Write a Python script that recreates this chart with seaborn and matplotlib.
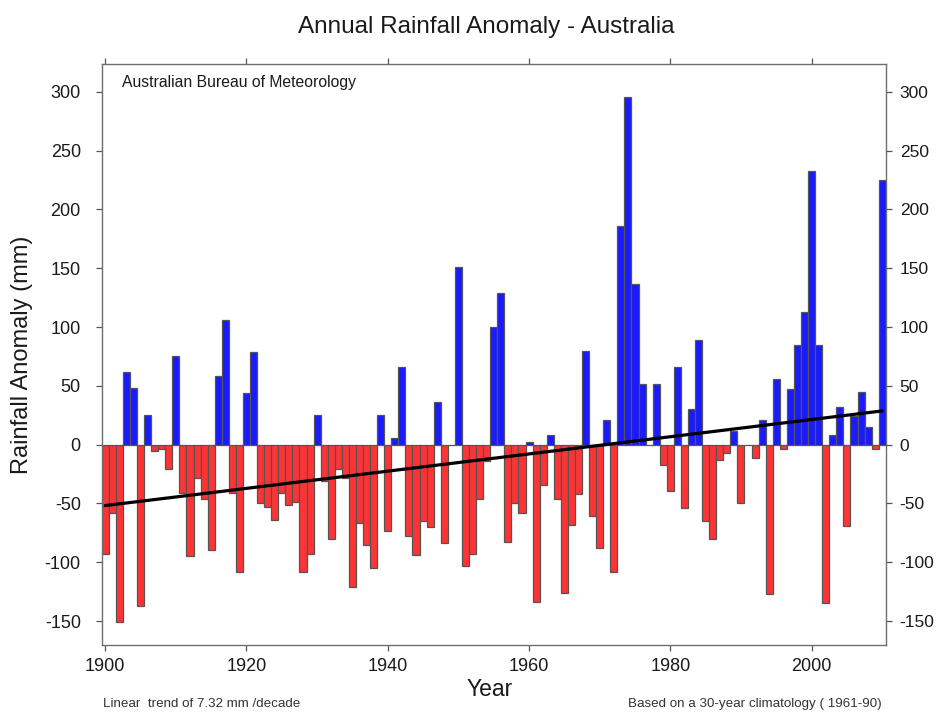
import matplotlib
matplotlib.use("Agg")
import matplotlib.pyplot as plt
from matplotlib import font_manager
import seaborn as sns
import pandas as pd

# ---- data ----
years = list(range(1900, 2011))
anomaly = [
    -93, -58, -151, 62, 48, -137, 25, -5, -4, -21,        # 1900-1909
    75, -41, -95, -28, -46, -90, 58, 106, -41, -108,      # 1910-1919
    44, 79, -50, -53, -64, -41, -51, -49, -108, -93,      # 1920-1929
    25, -31, -80, -21, -28, -121, -67, -85, -105, 25,     # 1930-1939
    -73, 6, 66, -78, -94, -65, -70, 36, -84, 0,           # 1940-1949
    151, -103, -93, -46, -14, 100, 129, -83, -50, -58,    # 1950-1959
    2, -134, -34, 8, -46, -126, -68, -42, 80, -61,        # 1960-1969
    -88, 21, -108, 186, 296, 137, 52, 0, 52, -17,         # 1970-1979
    -39, 66, -54, 30, 89, -65, -80, -13, -7, 12,          # 1980-1989
    -50, 0, -11, 21, -127, 56, -4, 47, 85, 113,           # 1990-1999
    233, 85, -135, 8, 32, -69, 24, 45, 15, -4,            # 2000-2009
    225,                                                  # 2010
]
trend_years = [1900, 2010]
trend_values = [-51.8, 28.7]
x_ticks = [1900, 1920, 1940, 1960, 1980, 2000]
y_ticks = [-150, -100, -50, 0, 50, 100, 150, 200, 250, 300]

title = "Annual Rainfall Anomaly - Australia"
ylabel = "Rainfall Anomaly (mm)"
xlabel = "Year"
source = "Australian Bureau of Meteorology"
note_left = "Linear  trend of 7.32 mm /decade"
note_right = "Based on a 30-year climatology ( 1961-90)"

BLUE = "#1a1aff"
RED = "#ff3333"
EDGE = "#555555"

# ---- style ----
sns.set_style("white")
names = {f.name for f in font_manager.fontManager.ttflist}
base = "Liberation Sans" if "Liberation Sans" in names else "DejaVu Sans"
narrow = "Liberation Sans Narrow" in names
plt.rcParams["font.family"] = [base, "DejaVu Sans"]

df = pd.DataFrame({"year": years, "anomaly": anomaly})
df["sign"] = ["pos" if v > 0 else "neg" for v in df["anomaly"]]

fig = plt.figure(figsize=(9.39, 7.14), dpi=100)
ax = fig.add_axes([0.1083, 0.0966, 0.8350, 0.8137])

sns.barplot(data=df, x="year", y="anomaly", hue="sign",
            palette={"pos": BLUE, "neg": RED}, native_scale=True,
            dodge=False, width=1.0, errorbar=None, legend=False,
            saturation=1, edgecolor=EDGE, linewidth=0.9, ax=ax, zorder=2)

sns.lineplot(x=trend_years, y=trend_values, color="black", linewidth=2.3,
             ax=ax, zorder=3)

ax.set_xlim(1899.5, 2010.5)
ax.set_ylim(-170.4, 323.7)
ax.set_xticks(x_ticks)
ax.set_xticklabels([str(t) for t in x_ticks])
ax.set_yticks(y_ticks)
ax.set_yticklabels([str(t) for t in y_ticks])
ax.set_xlabel("")
ax.set_ylabel("")

for s in ax.spines.values():
    s.set_color("#6e6e6e")
    s.set_linewidth(1.0)

ax.tick_params(axis="both", which="major", direction="out", length=4,
               width=0.9, color="#555555", labelcolor="#1a1a1a",
               labelsize=13)
ax.tick_params(axis="x", top=True, bottom=True, labeltop=False, pad=5)
ax.tick_params(axis="y", left=True, right=True, labelleft=True,
               labelright=False, pad=11)

# right-side labels drawn as a twin axis sharing the same scale
axr = ax.twinx()
axr.set_ylim(ax.get_ylim())
axr.set_yticks(y_ticks)
axr.set_yticklabels([str(t) for t in y_ticks])
axr.tick_params(axis="y", direction="out", length=4, width=0.9,
                color="#555555", labelcolor="#1a1a1a", labelsize=12.5, pad=6)
for s in axr.spines.values():
    s.set_visible(False)

# ---- texts ----
if narrow:
    fig.text(0.518, 1 - 27 / 714, title, ha="center", va="center",
             fontsize=21, family=["Liberation Sans Narrow", base],
             color="#1a1a1a")
else:
    fig.text(0.518, 1 - 27 / 714, title, ha="center", va="center",
             fontsize=17.5, color="#1a1a1a")

fig.text(22 / 939, 1 - 355 / 714, ylabel, rotation=90, ha="center",
         va="center", fontsize=17, color="#1a1a1a")
fig.text(489.5 / 939, 1 - 690 / 714, xlabel, ha="center", va="center",
         fontsize=16.5, color="#1a1a1a")
fig.text(122 / 939, 1 - 83 / 714, source, ha="left", va="center",
         fontsize=11.3, color="#1a1a1a")
fig.text(103 / 939, 1 - 704 / 714, note_left, ha="left", va="center",
         fontsize=9.6, color="#333333")
fig.text(882 / 939, 1 - 704 / 714, note_right, ha="right", va="center",
         fontsize=9.6, color="#333333")

fig.savefig("out.png", dpi=100)
